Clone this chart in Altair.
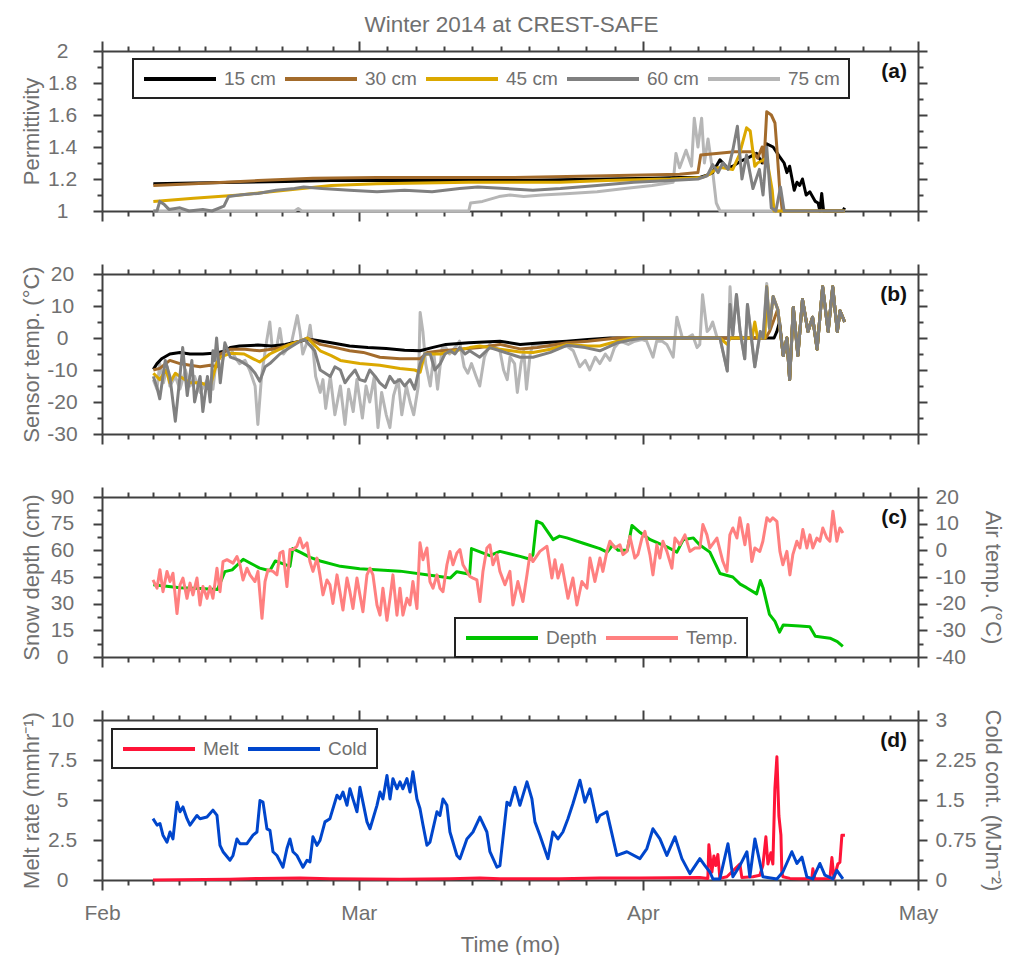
import altair as alt
import pandas as pd

# ---------------- data (time in days since 2014-02-01) ----------------
# Panel (a): permittivity
a15_t = [5.6, 10, 15, 20, 25, 30, 35, 40, 45, 50, 55, 60, 63, 65.2, 65.8, 66.6, 67.4, 68.2, 68.8, 69.6, 70.4, 71.4, 72.0,
         72.5, 73.2, 73.9, 74.4, 74.7, 75.0, 75.5, 75.8, 76.1, 76.4, 76.8, 77.2, 77.8, 78.1, 78.3, 78.5, 78.7, 80.8, 81.0]
a15_v = [1.17, 1.175, 1.18, 1.185, 1.19, 1.19, 1.19, 1.19, 1.19, 1.195, 1.20, 1.205, 1.21, 1.21, 1.22, 1.24, 1.32, 1.27,
         1.28, 1.31, 1.33, 1.36, 1.30, 1.42, 1.40, 1.34, 1.30, 1.24, 1.28, 1.13, 1.18, 1.16, 1.20, 1.10, 1.12, 1.06, 1.05,
         1.0, 1.11, 1.0, 1.0, 1.02]
a30_t = [5.6, 10, 17, 23, 30, 35, 45, 55, 63, 65.0, 65.3, 67.0, 69.0, 70.5, 71.0, 71.5, 72.0, 72.2, 72.5, 73.0, 73.4,
         73.6, 73.9, 74.2, 81.0]
a30_v = [1.16, 1.17, 1.19, 1.205, 1.21, 1.21, 1.21, 1.22, 1.23, 1.24, 1.35, 1.36, 1.37, 1.37, 1.37, 1.33, 1.40, 1.30,
         1.62, 1.60, 1.55, 1.40, 1.15, 1.0, 1.0]
a45_t = [5.6, 10, 15, 20, 25, 30, 40, 50, 55, 62, 65.5, 66.3, 67.1, 67.7, 68.8, 69.5, 70.3, 70.7, 71.2, 71.5, 72.5,
         73.1, 73.3, 81.0]
a45_v = [1.06, 1.08, 1.10, 1.13, 1.16, 1.17, 1.18, 1.18, 1.19, 1.20, 1.21, 1.23, 1.27, 1.27, 1.26, 1.35, 1.52, 1.50,
         1.28, 1.30, 1.33, 1.13, 1.0, 1.0]
a60_t = [5.6, 6.0, 6.3, 6.8, 7.3, 8.5, 9.5, 11, 12, 13.3, 13.8, 15, 17, 19, 21, 22, 24, 27, 30, 33, 36, 39, 41, 44, 47,
         50, 54, 58, 62, 65, 66.0, 66.6, 67.2, 67.7, 68.3, 68.8, 69.3, 69.8, 70.3, 71.0, 71.7, 72.1, 72.5, 73.0, 73.5,
         74.0, 74.4, 81.0]
a60_v = [1.0, 1.0, 1.06, 1.04, 1.01, 1.02, 1.0, 1.01, 1.0, 1.03, 1.09, 1.10, 1.11, 1.13, 1.14, 1.15, 1.14, 1.13, 1.12,
         1.13, 1.12, 1.14, 1.15, 1.14, 1.13, 1.14, 1.16, 1.18, 1.19, 1.20, 1.22, 1.29, 1.24, 1.30, 1.26, 1.38, 1.53,
         1.20, 1.35, 1.14, 1.26, 1.10, 1.40, 1.02, 1.0, 1.15, 1.0, 1.0]
a75_t = [5.6, 21.0, 21.4, 21.8, 40.0, 40.2, 41.5, 43.3, 44.5, 46, 48, 51, 54, 57, 60, 62.3, 62.6, 63.0, 63.7, 64.3,
         64.6, 65.0, 65.4, 65.7, 66.1, 66.6, 67.0, 67.4, 81.0]
a75_v = [1.0, 1.0, 1.015, 1.0, 1.0, 1.05, 1.06, 1.09, 1.10, 1.09, 1.10, 1.11, 1.12, 1.14, 1.16, 1.18, 1.36, 1.27, 1.38,
         1.28, 1.58, 1.40, 1.58, 1.30, 1.45, 1.25, 1.05, 1.0, 1.0]

# Panel (b): sensor temperature
b_late_t = [72.5, 72.8, 73.2, 73.7, 74.3, 74.7, 75.0, 75.4, 75.9, 76.4, 77.0, 77.5, 78.0, 78.3, 78.6, 79.2, 79.7, 80.2,
            80.5, 81.0]
b_late_v = [16, 3, 13, 9, -5.5, 0, -13, 9.5, -5.5, 12, 2, 6.5, -3.5, 6.5, 16, 2, 16, 2, 8.5, 5]
b15_t = [5.6, 6.0, 6.5, 7.4, 8.5, 9.6, 11, 12.5, 13.5, 14, 15, 17, 18.5, 20, 21.6, 22.4, 23.5, 25, 27, 29, 31, 33,
         34.7, 36, 37.5, 40, 43.4, 45.6, 48, 50.7, 53, 55.4, 73.3, 73.6, 73.9] + b_late_t[4:]
b15_v = [-9.8, -8, -6.5, -5, -4.5, -5, -5, -4.7, -4, -3, -2.5, -2.2, -2.5, -2, -1, -0.3, -0.8, -1.5, -2.5, -3, -3.3,
         -3.8, -4, -3, -2, -1.5, -1, -2, -1.5, -1, -0.5, 0, 0, 2, 5] + b_late_v[4:]
b30_t = [5.6, 6.3, 7.4, 8.5, 9.6, 10.7, 11.8, 12.5, 12.9, 14, 15.6, 17.2, 18.5, 19.4, 20.5, 21.6, 22.4, 23.8, 25.5, 27,
         28.5, 30.3, 32.5, 34.7, 35.5, 37, 39, 41.2, 43.4, 45.6, 47.5, 50.7, 53, 56.2, 72.4, 72.8, 73.2] + b_late_t[3:]
b30_v = [-10, -9.5, -7, -8, -8.5, -9, -8.5, -9, -5, -3.5, -3.5, -4, -3.5, -3, -2, -1, 0, -2, -3, -4, -4.5, -6, -6.5,
         -6.5, -4.5, -4, -3.5, -3, -2, -3.4, -3, -1.5, -1, 0, 0, 2, 5] + b_late_v[3:]
b45_t = [5.6, 6.3, 7.0, 7.4, 8.0, 8.5, 9.6, 10.7, 11.8, 12.5, 12.9, 14, 15.5, 16.5, 17.2, 18.3, 19.4, 20.5, 21.6, 22.4,
         23.8, 25, 26, 28.1, 30.3, 32.5, 34.1, 34.7, 35.2, 36.9, 38.5, 40.1, 41.2, 43.4, 45.6, 47, 48.9, 50.7, 53, 54.3,
         56.2, 57.9, 67.4, 68.2, 68.5, 70.9, 71.2, 71.5, 72.3] + b_late_t
b45_v = [-11, -13, -10, -14, -11, -12, -14, -14, -15, -8, -6, -4.8, -5, -6.5, -7.5, -5, -3.5, -2, -1, 0, -4, -5.5, -7,
         -8, -8.5, -9.5, -10, -10.7, -5, -5, -4, -3, -2.5, -3.5, -4.4, -4.5, -3.5, -2, -2.5, -2.5, -1, 0, 0, -2, 0, 0,
         5, 0, 0] + b_late_v
b60_t = [5.6, 6.0, 6.3, 6.9, 7.4, 8.0, 8.5, 8.8, 9.3, 9.8, 10.1, 10.7, 11.0, 11.5, 11.8, 12.1, 12.3, 12.5, 12.9, 13.4,
         14.0, 15.0, 16.1, 16.7, 17.2, 17.8, 18.3, 19.4, 20.5, 21.6, 22.1, 23.2, 23.8, 24.9, 25.4, 26.0, 26.5, 27.0,
         27.6, 28.1, 28.7, 29.2, 29.8, 30.3, 30.9, 31.4, 31.9, 32.5, 33.0, 33.6, 34.1, 34.7, 35.2, 35.8, 36.3, 36.9,
         37.4, 38.0, 38.5, 39.0, 39.6, 40.1, 41.2, 42.3, 43.4, 44.5, 45.6, 47.0, 48.9, 50.7, 52.7, 54.3, 56.2, 57.9,
         59.2, 67.4, 68.2, 68.5, 68.8, 69.2, 69.6, 70.1, 70.4, 71.2, 71.8, 72.1] + b_late_t
b60_v = [-12, -15.5, -19, -7, -12, -26, -12, -3, -18, -7, -20, -12, -23, -12, -20, -4, -7, 0, -14, -1.5, -6, -7, -9,
         -11, -13.5, -9, -8, -5, -3, -1, -0.5, -4, -10, -12, -9, -10, -14, -12, -10, -13, -13.5, -10, -12, -14, -15.5,
         -12, -14, -13, -15, -13, -16, -8, -5, -5, -10, -8, -5, -4, -5, -3, -5, -4, -6, -3, -4, -5, -6, -6, -4.5,
         -2.3, -3, -4, -1.5, -0.5, 0, 0, -10.3, 10.5, 1, 13.6, 2, -6.5, 10.5, -9, 2, 0] + b_late_v
b75_t = [5.6, 6.0, 6.3, 6.7, 7.1, 7.4, 8.0, 8.5, 9.1, 9.6, 10.1, 10.7, 11.5, 12.1, 12.5, 12.9, 13.4, 14.0, 14.5, 15.0,
         15.6, 16.1, 16.7, 17.0, 17.4, 17.9, 18.3, 18.6, 19.1, 19.4, 19.8, 20.3, 20.7, 21.3, 21.6, 21.9, 22.4, 22.7,
         23.0, 23.3, 23.8, 24.1, 24.4, 24.9, 25.4, 26.0, 26.5, 26.9, 27.4, 27.8, 28.4, 28.8, 29.2, 29.7, 30.1, 30.5,
         31.0, 31.4, 31.8, 32.3, 32.7, 33.2, 33.6, 34.0, 34.5, 34.7, 35.0, 35.3, 35.8, 36.2, 36.6, 37.1, 37.5, 37.9,
         38.5, 39.0, 39.5, 39.9, 40.3, 40.8, 41.2, 41.7, 42.3, 42.9, 43.4, 43.8, 44.2, 44.5, 45.0, 45.3, 45.7, 46.0,
         46.3, 46.7, 47.0, 48.3, 49.4, 50.7, 51.4, 52.1, 52.7, 53.2, 53.8, 54.3, 54.9, 55.4, 55.9, 56.5, 57.4, 58.1,
         58.9, 59.4, 60.1, 60.5, 61.1, 61.6, 62.3, 62.7, 63.3, 63.8, 64.4, 64.9, 65.2, 65.5, 66.0, 66.3, 66.6, 67.1,
         67.4, 68.2, 68.5, 68.8, 69.2, 69.6, 70.1, 70.4, 71.2, 71.8, 72.1, 72.5] + b_late_t[1:]
b75_v = [-13, -16, -8, -14, -9, -15, -12, -16, -10, -15, -12, -17, -13, -16, -6, -10, -4, -3, -6, -8, -7, -10, -15,
         -27, -12, -2, 5, -4, -2, 3, -5, -3, -1, 7, 2, -5, -1, 4, -3, -12, -17, -13, -22, -12, -24, -15, -27, -16, -23,
         -13, -25, -15, -20, -12, -28, -17, -24, -28, -18, -13, -24, -15, -20, -24, -15, 8, 2, -8, -15, -5, -16, -3,
         -3, -5, -3, -1, -9, -11, -8, -12, -15, -6, -2, -3, -4, -10, -13, -6, -8, -17, -8, -4, -16, -5, -2, -2.5, -3,
         -2.5, -4, -9, -7, -10, -6, -8, -5, -7, -3, -1, -2, -1, -0.5, -1, -6, -1, -1, -2, -6, 6.5, 0, 0, 1, -3, -2,
         13.5, 2, 3, 5, 0, 0, -10.3, 16, 1, 13.6, 2, -6.5, 10.5, -9, 2, 0, 17] + b_late_v[1:]

# Panel (c): snow depth (cm) and air temperature (deg C)
depth_t = [5.6, 8.5, 10.7, 12.6, 13.4, 14.2, 15.4, 16.1, 17.2, 18.3, 18.9, 19.7, 20.5, 20.8, 21.6, 22.7, 23.8, 26.0,
           28.1, 30.3, 32.5, 35.8, 38.0, 38.7, 40.1, 40.3, 42.3, 43.4, 45.6, 46.7, 47.0, 47.4, 48.0, 49.2, 49.9, 50.7,
           52.5, 54.3, 55.1, 55.7, 56.3, 57.3, 57.8, 58.7, 59.8, 61.6, 62.7, 63.4, 64.5, 65.2, 66.3, 67.4, 68.8, 69.6,
           70.3, 71.4, 71.8, 72.1, 72.8, 73.4, 73.9, 74.3, 76.1, 77.2, 77.8, 79.4, 80.2, 80.8]
depth_v = [40.6, 39, 38.5, 38, 48, 49, 55, 53, 50, 48.5, 54, 52.5, 51, 61, 59, 56, 54, 51, 49.7, 49, 48.3, 46, 44.5,
           48, 46.5, 61, 57, 59.4, 56.6, 55, 57.5, 76.4, 75, 66, 68, 67, 64, 61, 59, 63, 60, 60, 74, 70, 66, 62, 59, 66,
           67, 63, 59, 47, 45, 41, 39, 35.5, 43, 39, 24, 20, 14, 18, 17.5, 17, 11.7, 10.6, 8.7, 6]
air_t = [5.56, 6.00, 6.32, 6.65, 7.09, 7.42, 7.74, 8.18, 8.51, 8.83, 9.27, 9.60, 9.92, 10.36, 10.69, 11.01, 11.45,
         11.78, 12.10, 12.54, 12.87, 13.20, 13.63, 14.29, 14.72, 15.05, 15.38, 15.81, 16.14, 16.68, 17.01, 17.45,
         17.78, 18.10, 18.65, 19.08, 19.41, 19.74, 20.17, 20.50, 20.83, 21.26, 21.59, 21.92, 22.36, 22.68, 23.01,
         23.45, 23.77, 24.10, 24.54, 24.86, 25.19, 25.63, 25.95, 26.28, 26.72, 27.04, 27.37, 27.81, 28.13, 28.46,
         28.90, 29.23, 29.55, 29.99, 30.32, 30.64, 31.08, 31.41, 31.73, 32.17, 32.50, 32.82, 33.26, 33.59, 33.91,
         34.35, 34.68, 35.01, 35.44, 35.77, 36.10, 36.53, 36.86, 37.19, 37.62, 37.95, 38.28, 38.71, 39.04, 39.37,
         39.80, 40.13, 40.46, 40.89, 41.22, 41.55, 41.98, 42.31, 42.64, 43.07, 43.40, 43.95, 44.49, 44.82, 45.36,
         45.91, 46.35, 46.67, 47.00, 47.76, 48.53, 49.07, 49.40, 49.73, 50.16, 50.49, 50.82, 51.36, 51.80, 52.34,
         52.89, 53.22, 53.76, 54.31, 54.63, 55.07, 55.40, 55.94, 56.49, 56.82, 57.25, 57.58, 58.12, 58.45, 58.89,
         59.21, 59.76, 60.09, 60.52, 60.85, 61.18, 61.61, 62.16, 62.49, 63.03, 63.58, 64.12, 64.67, 65.21, 65.54,
         65.98, 66.30, 67.07, 67.72, 68.16, 68.48, 68.81, 69.25, 69.57, 70.12, 70.45, 70.88, 71.21, 71.75, 72.08,
         72.52, 72.85, 73.17, 73.61, 73.94, 74.26, 74.70, 75.03, 75.35, 75.79, 76.12, 76.44, 76.88, 77.21, 77.53,
         77.97, 78.30, 78.62, 79.06, 79.39, 79.72, 80.15, 80.48, 80.81]
air_v = [-11.1, -14.2, -7.3, -15.5, -7.9, -11.7, -8.6, -23.7, -12.9, -10.4, -18, -12.3, -16.7, -10.4, -20.5, -13.6,
         -18, -13.6, -18, -6.7, -15.5, -4.2, -3.5, -4.8, -2.3, -5.4, -11.1, -6.7, -9.2, -11.7, -7.9, -25.5, -11.7,
         -7.3, -7.9, -9.2, -1, -0.4, -13.6, 0.3, 0.3, 1.5, 4.6, 0.9, 2.8, -4.2, -7.9, -2.9, -9.2, -16.7, -11.1,
         -12.9, -19.9, -9.2, -15.5, -22.4, -10.4, -15.5, -21.8, -10.4, -16.7, -23, -9.2, -6.7, -9.2, -20.5, -24.3,
         -14.2, -26.2, -18, -9.2, -24.3, -14.2, -24.3, -18, -20.5, -11.7, -21.8, 2.8, -3.5, 0.9, -11.7, -14.2, -9.2,
         -14.2, -15.5, -5.4, -0.4, -5.4, -1, 0.3, -5.4, -7.9, -9.8, -10.4, -11.1, -19.2, -7.9, 0.9, 2.1, -5.4, -1.6,
         -7.9, -12.9, -7.9, -20.5, -11.7, -19.2, -9.2, -1.6, -4.2, -0.4, 1.5, -10.4, -3.5, -10.4, -5.4, -11.7, -18,
         -10.4, -20.5, -11.7, -14.2, -2.9, -11.7, -2.9, -7.9, -0.4, 3.4, 0.9, 2.1, -1.6, -0.4, 5.2, -2.9, -1.6, 4.6,
         7.1, -1.6, -9.2, 2.1, -2.9, 3.4, -0.4, -6.7, 4.6, 2.1, 5.8, -0.4, 0.9, 0.9, 9.7, 5.8, 0.9, 4.6, -4.2, -7.9,
         5.8, 8.4, 4.6, 12.2, 2.1, 9.7, -4.2, 0.9, -0.4, 3.4, 12.2, 10.9, 12.2, 10.9, -0.4, -5.4, -0.4, -9.2, -1.6,
         3.4, 0.9, 7.8, 0.9, 5.8, 0.9, 4.6, 3.4, 8.4, 4.6, 3.4, 14.7, 3.4, 8.4, 6.5]

# Panel (d): melt rate (mm/hr) and cold content (MJ/m2)
melt_t = [5.56, 13.96, 17.23, 21.59, 24.86, 32.50, 37.95, 41.22, 43.40, 49.94, 54.31, 58.67, 65.21, 66.08, 66.19,
          66.52, 66.74, 66.95, 67.17, 67.39, 68.16, 69.57, 69.79, 70.99, 71.75, 72.08, 72.41, 72.63, 72.95, 73.17,
          73.39, 73.61, 73.83, 74.05, 74.15, 74.26, 75.03, 76.12, 77.42, 77.53, 77.75, 79.39, 79.61, 79.83, 80.26,
          80.48, 80.70, 81.03]
melt_v = [0.0, 0.05, 0.1, 0.12, 0.08, 0.05, 0.08, 0.12, 0.08, 0.08, 0.12, 0.12, 0.15, 0.1, 2.2, 0.5, 1.5, 0.9, 1.6,
          0.1, 0.2, 1.0, 0.15, 0.2, 0.3, 0.9, 2.7, 1.0, 1.7, 1.0, 5.7, 7.7, 4.0, 2.8, 0.5, 0.2, 0.1, 0.08, 0.08, 0.7,
          0.08, 0.1, 1.4, 0.1, 1.0, 1.1, 2.8, 2.8]
cold_t = [5.56, 6.00, 6.32, 6.65, 7.09, 7.42, 7.74, 8.18, 8.51, 8.83, 9.27, 9.60, 10.36, 10.69, 11.45, 12.10, 12.54,
          12.87, 13.20, 13.96, 14.29, 14.72, 15.05, 15.81, 16.47, 16.90, 17.23, 17.56, 17.99, 18.32, 18.65, 19.08,
          19.74, 20.17, 20.50, 20.83, 21.26, 21.92, 22.36, 22.68, 23.01, 23.45, 23.77, 24.32, 24.86, 25.63, 25.95,
          26.28, 26.72, 27.04, 27.37, 27.81, 28.13, 28.46, 28.90, 29.23, 29.99, 30.32, 30.64, 31.08, 31.41, 31.73,
          32.17, 32.50, 32.82, 33.26, 33.59, 33.91, 34.35, 34.68, 35.01, 35.44, 35.77, 36.53, 36.86, 37.19, 37.62,
          37.95, 38.71, 39.04, 39.80, 40.46, 41.22, 41.98, 42.31, 43.07, 43.40, 44.17, 44.49, 45.04, 45.58, 46.35,
          46.89, 47.22, 47.76, 48.64, 49.18, 49.73, 50.27, 50.82, 51.36, 52.13, 52.67, 53.22, 53.98, 54.31, 55.07,
          55.40, 56.16, 57.25, 58.67, 59.43, 60.09, 60.85, 61.61, 62.49, 63.25, 64.12, 65.21, 65.76, 66.30, 66.63,
          67.39, 68.27, 68.81, 69.57, 70.34, 70.66, 71.21, 72.08, 73.61, 74.26, 75.24, 75.79, 76.34, 76.88, 77.53,
          78.30, 78.84, 79.72, 80.15, 80.81]
cold_v = [1.15, 1.03, 1.06, 0.84, 0.71, 0.90, 0.77, 1.46, 1.28, 1.37, 1.15, 1.03, 1.21, 1.15, 1.18, 1.31, 1.21, 0.65,
          0.53, 0.37, 0.46, 0.77, 0.68, 0.68, 0.84, 0.90, 1.49, 1.46, 0.96, 0.93, 0.53, 0.46, 0.24, 0.59, 0.77, 0.53,
          0.46, 0.24, 0.37, 0.34, 0.81, 0.65, 0.74, 1.09, 1.15, 1.59, 1.52, 1.65, 1.40, 1.71, 1.52, 1.28, 1.74, 1.46,
          1.09, 0.96, 1.40, 1.65, 1.52, 1.96, 1.52, 1.90, 1.71, 1.84, 1.71, 1.90, 1.65, 2.03, 1.52, 1.34, 1.03, 0.65,
          0.71, 1.28, 1.21, 1.52, 1.40, 0.90, 0.46, 0.40, 0.77, 0.90, 1.18, 0.90, 0.53, 0.24, 0.27, 1.46, 1.40, 1.74,
          1.40, 1.84, 1.52, 1.09, 0.84, 0.40, 0.90, 0.77, 0.90, 1.15, 1.43, 1.87, 1.46, 1.71, 1.09, 1.21, 1.28, 1.03,
          0.46, 0.53, 0.40, 0.59, 0.96, 0.77, 0.46, 0.81, 0.40, 0.12, 0.40, 0.27, 0.15, 0.02, 0.02, 0.68, 0.06, 0.27,
          0.53, 0.06, 0.77, 0.06, 0.02, 0.15, 0.53, 0.31, 0.43, 0.06, 0.02, 0.31, 0.09, 0.02, 0.18, 0.02]

# axis tick values
YA_TICKS = [1.0, 1.1, 1.2, 1.3, 1.4, 1.5, 1.6, 1.7, 1.8, 1.9, 2.0]
YB_TICKS = [-30, -25, -20, -15, -10, -5, 0, 5, 10, 15, 20]
YC_TICKS = [0, 7.5, 15, 22.5, 30, 37.5, 45, 52.5, 60, 67.5, 75, 82.5, 90]
YC2_TICKS = [-40, -35, -30, -25, -20, -15, -10, -5, 0, 5, 10, 15, 20]
YD_TICKS = [0, 1.25, 2.5, 3.75, 5, 6.25, 7.5, 8.75, 10]
YD2_TICKS = [0, 0.375, 0.75, 1.125, 1.5, 1.875, 2.25, 2.625, 3]

# ---------------- helpers ----------------
T0 = pd.Timestamp("2014-02-01")
FONT = "Liberation Sans"
AX = "#404040"
TXT = "#707070"
W, H = 816, 160


def ms(d):
    return int((T0 + pd.Timedelta(days=float(d))).value // 1_000_000)


def long_frame(items):
    rows = []
    for name, ts, vs in items:
        assert len(ts) == len(vs), name
        for t, v in zip(ts, vs):
            rows.append({"t": ms(t), "v": v, "s": name})
    return pd.DataFrame(rows)


MONTHS = [(0, 28), (28, 31), (59, 30)]
XTICKS = [ms(s + k * n / 10) for s, n in MONTHS for k in range(10)] + [ms(89)]
XSCALE = alt.Scale(type="utc", domain=[ms(0), ms(89)], nice=False)
MAJOR_X = "utcdate(datum.value) == 1 && utchours(datum.value) == 0 && utcminutes(datum.value) == 0"


def tsize(test, major, minor):
    return {"condition": {"test": test, "value": major}, "value": minor}


def x_axis(orient, labels=False):
    kw = dict(orient=orient, values=XTICKS, tickSize=tsize(MAJOR_X, 10, 5), grid=False,
              labelFlush=False, labelOverlap=False)
    if labels:
        kw.update(labels=True, labelExpr=f"({MAJOR_X}) ? utcFormat(datum.value, '%b') : ''",
                  labelPadding=12, title="Time (mo)", titlePadding=11)
    else:
        kw.update(labels=False, title=None)
    return alt.Axis(**kw)


def y_axis(orient, vals, test, title=None, labels=True):
    kw = dict(orient=orient, values=vals, tickSize=tsize(test, 9, 5), grid=False,
              labelOverlap=False, labelFlush=False)
    if labels:
        kw.update(labelExpr=f"({test}) ? '' + datum.value : ''", labelBaseline="middle")
        if orient == "left":
            kw.update(labelAlign="center", labelPadding=31)
        else:
            kw.update(labelAlign="left", labelPadding=8)
    else:
        kw.update(labels=False)
    if title:
        kw.update(title=title, titleAngle=270 if orient == "left" else 90,
                  titleX=-71 if orient == "left" else 74, titleY=H / 2,
                  titleAlign="center", titleBaseline="middle")
    else:
        kw.update(title=None)
    return alt.Axis(**kw)


# long horizontal line symbol: path spans -1..7 units, unit = sqrt(size)/2 = 9 px -> 72 px
SYMBOL = "M-1,0H7"


def legend(x, y):
    return alt.Legend(orient="none", legendX=x, legendY=y, direction="horizontal", title=None,
                      symbolType=SYMBOL, symbolSize=324, symbolStrokeWidth=4,
                      labelFontSize=19, labelColor=TXT, labelFont=FONT,
                      strokeColor="#222222", fillColor="white", padding=9,
                      columnPadding=1, labelOffset=60)


def panel_label(txt):
    return alt.Chart(pd.DataFrame({"lab": [txt]})).mark_text(
        align="right", baseline="middle", fontSize=21, fontWeight="bold", font=FONT, color="#111111"
    ).encode(x=alt.value(805), y=alt.value(21), text="lab:N")


LINE = dict(strokeWidth=3, strokeJoin="round")
DEPTH_NAMES = ["15 cm", "30 cm", "45 cm", "60 cm", "75 cm"]
DEPTH_COLORS = ["#000000", "#A36B2B", "#DBA800", "#808080", "#B6B6B6"]

# ---------------- panel (a) ----------------
dfa = long_frame([("75 cm", a75_t, a75_v), ("15 cm", a15_t, a15_v), ("30 cm", a30_t, a30_v),
                  ("45 cm", a45_t, a45_v), ("60 cm", a60_t, a60_v)])
ya_scale = alt.Scale(domain=[1, 2], nice=False, zero=False)
ya_test = "round(datum.value * 10) % 2 == 0"
pa = alt.layer(
    alt.Chart(dfa).mark_line(**LINE).encode(
        x=alt.X("t:T", scale=XSCALE, axis=x_axis("bottom")),
        y=alt.Y("v:Q", scale=ya_scale, axis=y_axis("left", YA_TICKS, ya_test, "Permittivity")),
        color=alt.Color("s:N", scale=alt.Scale(domain=DEPTH_NAMES, range=DEPTH_COLORS), legend=legend(31, 8)),
    ),
    alt.Chart(dfa).mark_line(opacity=0).encode(
        x=alt.X("t:T", scale=XSCALE, axis=x_axis("top")),
        y=alt.Y("v:Q", scale=ya_scale, axis=y_axis("right", YA_TICKS, ya_test, labels=False)),
    ),
    panel_label("(a)"),
).resolve_axis(x="independent", y="independent").properties(width=W, height=H)

# ---------------- panel (b) ----------------
dfb = long_frame([("75 cm", b75_t, b75_v), ("15 cm", b15_t, b15_v), ("30 cm", b30_t, b30_v),
                  ("45 cm", b45_t, b45_v), ("60 cm", b60_t, b60_v)])
yb_scale = alt.Scale(domain=[-30, 20], nice=False, zero=False)
yb_test = "datum.value % 10 == 0"
pb = alt.layer(
    alt.Chart(dfb).mark_line(**LINE).encode(
        x=alt.X("t:T", scale=XSCALE, axis=x_axis("bottom")),
        y=alt.Y("v:Q", scale=yb_scale, axis=y_axis("left", YB_TICKS, yb_test, "Sensor temp. (°C)")),
        color=alt.Color("s:N", scale=alt.Scale(domain=DEPTH_NAMES, range=DEPTH_COLORS), legend=None),
    ),
    alt.Chart(dfb).mark_line(opacity=0).encode(
        x=alt.X("t:T", scale=XSCALE, axis=x_axis("top")),
        y=alt.Y("v:Q", scale=yb_scale, axis=y_axis("right", YB_TICKS, yb_test, labels=False)),
    ),
    panel_label("(b)"),
).resolve_axis(x="independent", y="independent").properties(width=W, height=H)

# ---------------- panel (c) ----------------
dfc1 = long_frame([("Depth", depth_t, depth_v)])
dfc2 = long_frame([("Temp.", air_t, air_v)])
c_color = alt.Scale(domain=["Depth", "Temp."], range=["#00C400", "#FF8080"])
yc_scale = alt.Scale(domain=[0, 90], nice=False, zero=False)
pc = alt.layer(
    alt.Chart(dfc1).mark_line(**LINE).encode(
        x=alt.X("t:T", scale=XSCALE, axis=x_axis("bottom")),
        y=alt.Y("v:Q", scale=yc_scale, axis=y_axis("left", YC_TICKS, "datum.value % 15 == 0", "Snow depth (cm)")),
        color=alt.Color("s:N", scale=c_color, legend=legend(353, 121)),
    ),
    alt.Chart(dfc2).mark_line(**LINE).encode(
        x=alt.X("t:T", scale=XSCALE, axis=None),
        y=alt.Y("v:Q", scale=alt.Scale(domain=[-40, 20], nice=False, zero=False),
                axis=y_axis("right", YC2_TICKS, "datum.value % 10 == 0", "Air temp. (°C)")),
        color=alt.Color("s:N", scale=c_color, legend=legend(353, 121)),
    ),
    alt.Chart(dfc1).mark_line(opacity=0).encode(
        x=alt.X("t:T", scale=XSCALE, axis=x_axis("top")),
        y=alt.Y("v:Q", scale=yc_scale, axis=None),
    ),
    panel_label("(c)"),
).resolve_scale(y="independent").resolve_axis(x="independent", y="independent").properties(width=W, height=H)

# ---------------- panel (d) ----------------
dfd1 = long_frame([("Melt", melt_t, melt_v)])
dfd2 = long_frame([("Cold", cold_t, cold_v)])
d_color = alt.Scale(domain=["Melt", "Cold"], range=["#FF1438", "#0046CC"])
yd_scale = alt.Scale(domain=[0, 10], nice=False, zero=False)
pdd = alt.layer(
    alt.Chart(dfd1).mark_line(**LINE).encode(
        x=alt.X("t:T", scale=XSCALE, axis=x_axis("bottom", labels=True)),
        y=alt.Y("v:Q", scale=yd_scale, axis=y_axis("left", YD_TICKS, "datum.value % 2.5 == 0", "Melt rate (mmhr⁻¹)")),
        color=alt.Color("s:N", scale=d_color, legend=legend(10, 9)),
    ),
    alt.Chart(dfd2).mark_line(**LINE).encode(
        x=alt.X("t:T", scale=XSCALE, axis=None),
        y=alt.Y("v:Q", scale=alt.Scale(domain=[0, 3], nice=False, zero=False),
                axis=y_axis("right", YD2_TICKS, "datum.value % 0.75 == 0", "Cold cont. (MJm⁻²)")),
        color=alt.Color("s:N", scale=d_color, legend=legend(10, 9)),
    ),
    alt.Chart(dfd1).mark_line(opacity=0).encode(
        x=alt.X("t:T", scale=XSCALE, axis=x_axis("top")),
        y=alt.Y("v:Q", scale=yd_scale, axis=None),
    ),
    panel_label("(d)"),
).resolve_scale(y="independent").resolve_axis(x="independent", y="independent").properties(width=W, height=H)

chart = alt.vconcat(pa, pb, pc, pdd, spacing=63).properties(
    title=alt.TitleParams("Winter 2014 at CREST-SAFE", fontSize=22.5, color=TXT, font=FONT,
                          fontWeight="normal", anchor="middle"),
    bounds="flush",
    padding={"left": 20, "top": 13, "right": 5, "bottom": 5},
).resolve_scale(color="independent").configure(font=FONT).configure_view(stroke=None).configure_axis(
    domainColor=AX, domainWidth=2, tickColor=AX, tickWidth=2,
    labelColor=TXT, labelFont=FONT, labelFontSize=21,
    titleColor=TXT, titleFont=FONT, titleFontSize=22, titleFontWeight="normal",
).configure_legend(strokeWidth=2)

chart.save("out.html", embed_options={"renderer": "svg", "actions": False})
